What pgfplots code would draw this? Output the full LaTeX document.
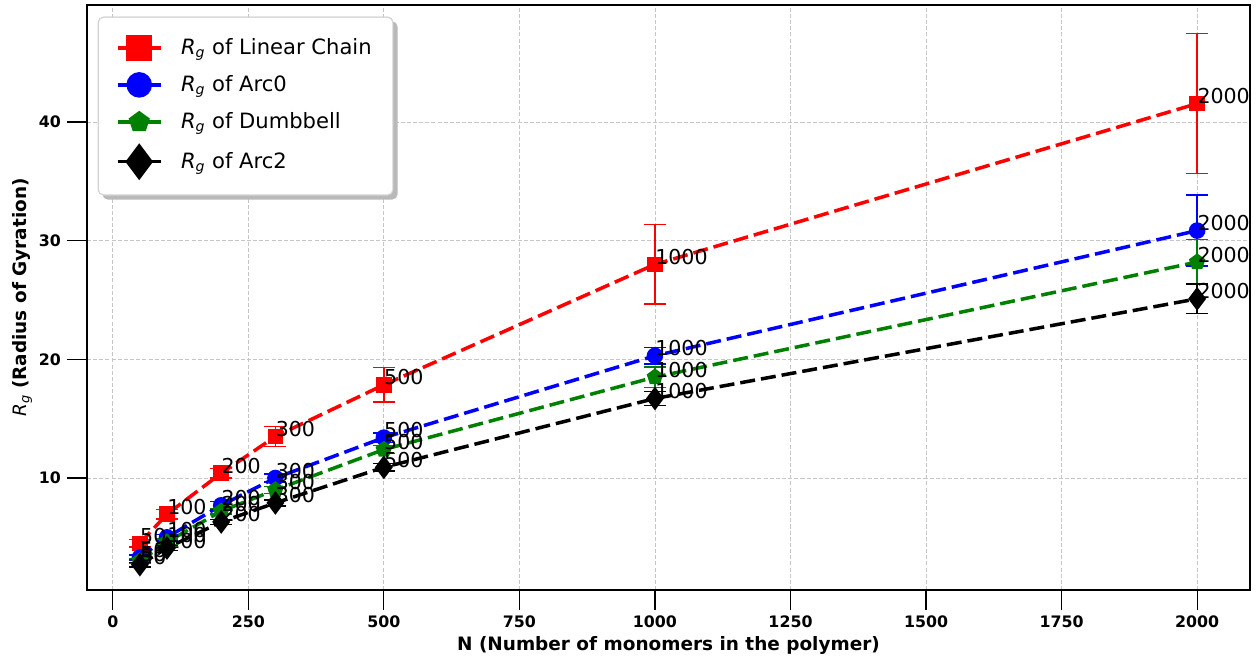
\documentclass[border=0pt]{standalone}
\usepackage{fontspec}
\setmainfont{DejaVu Sans}
\usepackage{pgfplots}
\usepackage{pgfplotstable}
\pgfplotsset{compat=1.18}
\usetikzlibrary{calc}

\newcommand{\Rg}{\textit{R}\textsubscript{\textit{g}}}

% N  Rg
\pgfplotstableread{
N R
50 4.5
100 6.95
200 10.4
300 13.5
500 17.85
1000 28.0
2000 41.55
}\linear
\pgfplotstableread{
N R
50 3.3
100 5.0
200 7.7
300 10.0
500 13.4
1000 20.3
2000 30.85
}\arczero
\pgfplotstableread{
N R
50 3.0
100 4.6
200 7.2
300 9.0
500 12.4
1000 18.5
2000 28.2
}\dumbbell
\pgfplotstableread{
N R
50 2.7
100 4.1
200 6.3
300 7.9
500 10.9
1000 16.7
2000 25.1
}\arctwo

\pgfplotsset{
  errbar/.style={forget plot, draw=#1, solid, line width=0.8pt, unbounded coords=jump,
    mark=-, mark size=0.22cm, mark options={solid, draw=#1, line width=0.8pt}},
  rgline/.style={color=#1, line width=2pt, dash pattern=on 0.3cm off 0.12cm, mark options={solid}},
  nlabel/.style={forget plot, draw=none, mark=none,
    nodes near coords, point meta=x,
    every node near coord/.append style={anchor=base west, inner sep=0pt, black,
      font=\fontsize{11.7}{13}\selectfont}},
  legmark/.style={legend image code/.code={
    \draw[solid, line width=2pt, mark repeat=2, mark phase=2, mark size=#1]
      plot coordinates {(0cm,0cm) (0.43cm,0cm) (0.86cm,0cm)};}},
}

\begin{document}
\begin{tikzpicture}
\begin{axis}[
  set layers,
  scale only axis, width=23.26cm, height=11.7cm,
  xmin=-47.5, xmax=2097.5, ymin=0.56, ymax=49.86,
  xtick={0,250,...,2000}, ytick={10,20,30,40},
  tick pos=left, tick align=outside, major tick length=0.4cm,
  tick style={black, line width=0.7pt},
  axis line style={black, line width=0.85pt},
  grid=major, major grid style={gray!45, dash pattern=on 2.3pt off 1.2pt, line width=0.45pt},
  /pgf/number format/1000 sep={},
  /pgf/number format/assume math mode=true,
  ticklabel style={font=\bfseries\fontsize{9}{10}\selectfont},
  label style={font=\fontsize{10.5}{12}\selectfont},
  xlabel={\textbf{N (Number of monomers in the polymer)}},
  ylabel={\Rg{} \textbf{(Radius of Gyration)}},
  xlabel style={yshift=2pt},
  ylabel style={yshift=-3pt},
  clip=false,
  legend cell align=left,
  legend style={at={(0.0095,0.9795)}, anchor=north west, rounded corners=3pt,
    draw=gray!35, fill=white, font=\fontsize{12}{14}\selectfont, name=leg,
    inner xsep=10pt, inner ysep=10pt, row sep=6.5pt,
    /tikz/every odd column/.append style={column sep=0.3cm},
    /tikz/every even column/.append style={column sep=4pt}},
]
\coordinate (SW) at (rel axis cs:0,0);
\coordinate (NE) at (rel axis cs:1,1);
% error bars (low, high) of each point
\addplot[errbar=red] coordinates {
 (50,4.2) (50,4.8) (50,nan) (100,6.55) (100,7.35) (100,nan) (200,10.0) (200,10.8) (200,nan)
 (300,12.65) (300,14.35) (300,nan) (500,16.4) (500,19.3) (500,nan)
 (1000,24.65) (1000,31.35) (1000,nan) (2000,35.65) (2000,47.45)};
\addplot[errbar=blue] coordinates {
 (50,3.1) (50,3.5) (50,nan) (100,4.75) (100,5.25) (100,nan) (200,7.4) (200,8.0) (200,nan)
 (300,9.65) (300,10.35) (300,nan) (500,13.0) (500,13.8) (500,nan)
 (1000,19.6) (1000,21.0) (1000,nan) (2000,27.85) (2000,33.85)};
\addplot[errbar=green!50!black] coordinates {
 (50,2.8) (50,3.2) (50,nan) (100,4.35) (100,4.85) (100,nan) (200,6.95) (200,7.45) (200,nan)
 (300,8.7) (300,9.3) (300,nan) (500,12.05) (500,12.75) (500,nan)
 (1000,17.65) (1000,19.35) (1000,nan) (2000,26.3) (2000,30.1)};
\addplot[errbar=black] coordinates {
 (50,2.5) (50,2.9) (50,nan) (100,3.9) (100,4.3) (100,nan) (200,6.1) (200,6.5) (200,nan)
 (300,7.65) (300,8.15) (300,nan) (500,10.6) (500,11.2) (500,nan)
 (1000,16.1) (1000,17.3) (1000,nan) (2000,23.85) (2000,26.35)};
% data lines
\addplot[rgline=red, mark=square*, mark size=0.12cm, legmark=0.23cm]
  table[x=N, y=R] {\linear};
\addlegendentry{\Rg{} of Linear Chain}
\addplot[rgline=blue, mark=*, mark size=0.13cm, legmark=0.22cm]
  table[x=N, y=R] {\arczero};
\addlegendentry{\Rg{} of Arc0}
\addplot[rgline=green!50!black, mark=pentagon*, mark size=0.13cm, legmark=0.18cm]
  table[x=N, y=R] {\dumbbell};
\addlegendentry{\Rg{} of Dumbbell}
\addplot[rgline=black, mark=diamond*, mark size=0.18cm, legmark=0.31cm]
  table[x=N, y=R] {\arctwo};
\addlegendentry{\Rg{} of Arc2}
% N labels beside each point
\addplot[nlabel] table[x=N, y=R] {\linear};
\addplot[nlabel] table[x=N, y=R] {\arczero};
\addplot[nlabel] table[x=N, y=R] {\dumbbell};
\addplot[nlabel] table[x=N, y=R] {\arctwo};
\end{axis}
% legend shadow: only the strip that the legend box does not cover
\fill[gray!55, even odd rule, rounded corners=3pt]
  ($(leg.south west)+(2.5pt,-2.5pt)$) rectangle ($(leg.north east)+(2.5pt,-2.5pt)$)
  (leg.south west) rectangle (leg.north east);
\draw[gray!35, rounded corners=3pt] (leg.south west) rectangle (leg.north east);
\pgfresetboundingbox
\path ($(SW)+(-1.74,-1.36)$) rectangle ($(NE)+(0.18,0.1)$);
\end{tikzpicture}
\end{document}
